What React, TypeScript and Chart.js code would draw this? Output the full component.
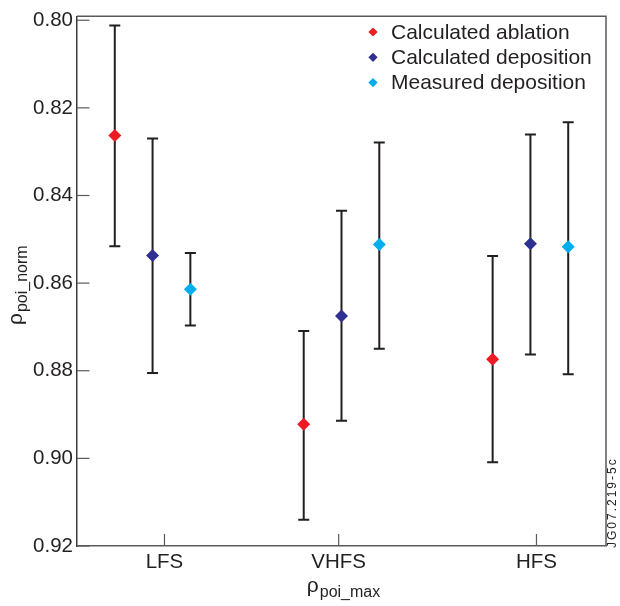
import React, { useEffect, useRef } from "react";
import { Chart, registerables } from "chart.js";

Chart.register(...registerables);

// Categories and where their labels sit on the horizontal axis
const CATEGORIES = ["LFS", "VHFS", "HFS"];
const CATEGORY_TICKS = [0.463, 1.385, 2.432];
const GROUP_CENTERS = [0.4, 1.4, 2.4];
const SERIES_OFFSETS = [-0.2, 0, 0.2];

// Vertical axis ticks (axis runs downward)
const Y_TICKS = [0.8, 0.82, 0.84, 0.86, 0.88, 0.9, 0.92];

const SERIES_NAMES = ["Calculated ablation", "Calculated deposition", "Measured deposition"];
const SERIES_COLORS = ["#ed1c24", "#2e3192", "#00aeef"];

// Values per category (LFS, VHFS, HFS) with error bar bounds
const ABLATION = [0.8263, 0.8922, 0.8774];
const ABLATION_LOW = [0.8012, 0.8709, 0.8538];
const ABLATION_HIGH = [0.8516, 0.914, 0.9009];

const CALC_DEPOSITION = [0.8537, 0.8675, 0.851];
const CALC_DEPOSITION_LOW = [0.827, 0.8435, 0.8261];
const CALC_DEPOSITION_HIGH = [0.8805, 0.8914, 0.8763];

const MEAS_DEPOSITION = [0.8614, 0.8512, 0.8517];
const MEAS_DEPOSITION_LOW = [0.8531, 0.8279, 0.8233];
const MEAS_DEPOSITION_HIGH = [0.8697, 0.875, 0.8808];

const FONT = "'Liberation Sans', Arial, Helvetica, sans-serif";
const TEXT = "#231f20";
const FRAME = "#5a5a5a";

const SERIES_VALUES = [ABLATION, CALC_DEPOSITION, MEAS_DEPOSITION];
const SERIES_LOW = [ABLATION_LOW, CALC_DEPOSITION_LOW, MEAS_DEPOSITION_LOW];
const SERIES_HIGH = [ABLATION_HIGH, CALC_DEPOSITION_HIGH, MEAS_DEPOSITION_HIGH];

const errorBars = {
  id: "errorBars",
  beforeDatasetsDraw(chart: any) {
    const { ctx } = chart;
    const y = chart.scales.y;
    ctx.save();
    ctx.strokeStyle = TEXT;
    ctx.lineWidth = 2;
    chart.data.datasets.forEach((ds: any, i: number) => {
      const meta = chart.getDatasetMeta(i);
      meta.data.forEach((pt: any, j: number) => {
        const x = pt.x;
        const top = y.getPixelForValue(ds.errLow[j]);
        const bot = y.getPixelForValue(ds.errHigh[j]);
        ctx.beginPath();
        ctx.moveTo(x, top);
        ctx.lineTo(x, bot);
        ctx.moveTo(x - 5.5, top);
        ctx.lineTo(x + 5.5, top);
        ctx.moveTo(x - 5.5, bot);
        ctx.lineTo(x + 5.5, bot);
        ctx.stroke();
      });
    });
    ctx.restore();
  },
};

function drawSubscripted(ctx: any, main: string, sub: string, x: number, y: number) {
  ctx.font = `21px ${FONT}`;
  const mw = ctx.measureText(main).width;
  ctx.font = `16px ${FONT}`;
  const sw = ctx.measureText(sub).width;
  const start = x - (mw + sw + 1) / 2;
  ctx.textAlign = "left";
  ctx.textBaseline = "alphabetic";
  ctx.font = `21px ${FONT}`;
  ctx.fillText(main, start, y);
  ctx.font = `16px ${FONT}`;
  ctx.fillText(sub, start + mw + 1, y + 5);
}

const decorations = {
  id: "decorations",
  afterDraw(chart: any) {
    const { ctx, chartArea: a } = chart;
    const xs = chart.scales.x;
    const ys = chart.scales.y;
    ctx.save();
    // frame top and right
    ctx.strokeStyle = FRAME;
    ctx.lineWidth = 1.5;
    ctx.beginPath();
    ctx.moveTo(a.left, a.top);
    ctx.lineTo(a.right, a.top);
    ctx.lineTo(a.right, a.bottom);
    ctx.stroke();
    // inward tick marks
    ctx.lineWidth = 1.2;
    Y_TICKS.forEach((v) => {
      const py = ys.getPixelForValue(v);
      ctx.beginPath();
      ctx.moveTo(a.left, py);
      ctx.lineTo(a.left + 12.5, py);
      ctx.stroke();
    });
    CATEGORY_TICKS.forEach((v) => {
      const px = xs.getPixelForValue(v);
      ctx.beginPath();
      ctx.moveTo(px, a.bottom);
      ctx.lineTo(px, a.bottom - 12);
      ctx.stroke();
    });

    // legend
    ctx.textAlign = "left";
    ctx.textBaseline = "middle";
    ctx.font = `21px ${FONT}`;
    SERIES_NAMES.forEach((name, i) => {
      const ly = 32 + i * 25.3;
      const lx = 373;
      const r = 4.6;
      ctx.fillStyle = SERIES_COLORS[i];
      ctx.beginPath();
      ctx.moveTo(lx - r, ly);
      ctx.lineTo(lx, ly - r);
      ctx.lineTo(lx + r, ly);
      ctx.lineTo(lx, ly + r);
      ctx.closePath();
      ctx.fill();
      ctx.fillStyle = TEXT;
      ctx.fillText(name, 391, ly + 1);
    });

    // axis titles
    ctx.fillStyle = TEXT;
    drawSubscripted(ctx, "ρ", "poi_max", (a.left + a.right) / 2 + 2, 592);
    ctx.save();
    ctx.translate(22, (a.top + a.bottom) / 2 + 4);
    ctx.rotate(-Math.PI / 2);
    drawSubscripted(ctx, "ρ", "poi_norm", 0, 0);
    ctx.restore();

    // figure reference tag
    ctx.save();
    ctx.translate(616, 548);
    ctx.rotate(-Math.PI / 2);
    ctx.font = `12px ${FONT}`;
    (ctx as any).letterSpacing = "2px";
    ctx.fillStyle = TEXT;
    ctx.textAlign = "left";
    ctx.textBaseline = "alphabetic";
    ctx.fillText("JG07.219-5c", 0, 0);
    ctx.restore();

    ctx.restore();
  },
};

export default function App() {
  const canvasRef = useRef<HTMLCanvasElement | null>(null);

  useEffect(() => {
    if (!canvasRef.current) return;
    const datasets = SERIES_NAMES.map((name, i) => ({
      label: name,
      data: SERIES_VALUES[i].map((v, j) => ({ x: GROUP_CENTERS[j] + SERIES_OFFSETS[i], y: v })),
      errLow: SERIES_LOW[i],
      errHigh: SERIES_HIGH[i],
      pointStyle: "rectRot",
      pointRadius: 6.5,
      pointBorderWidth: 0,
      backgroundColor: SERIES_COLORS[i],
      borderColor: SERIES_COLORS[i],
      showLine: false,
    }));

    const chart = new Chart(canvasRef.current, {
      type: "scatter",
      data: { datasets } as any,
      options: {
        responsive: false,
        animation: false,
        layout: { padding: { top: 12, right: 14, left: 0, bottom: 0 } },
        plugins: { legend: { display: false }, tooltip: { enabled: false } },
        scales: {
          x: {
            type: "linear",
            min: 0,
            max: 2.8,
            afterBuildTicks: (s: any) => {
              s.ticks = CATEGORY_TICKS.map((v) => ({ value: v }));
            },
            afterFit: (s: any) => {
              s.height = 60;
            },
            ticks: {
              callback: (_v: any, i: number) => CATEGORIES[i],
              font: { family: FONT, size: 20.5 },
              color: TEXT,
              padding: 4,
              maxRotation: 0,
              autoSkip: false,
            },
            grid: { display: false, drawTicks: false },
            border: { display: true, color: FRAME, width: 1.5 },
          },
          y: {
            type: "linear",
            reverse: true,
            min: 0.7991,
            max: 0.92,
            afterBuildTicks: (s: any) => {
              s.ticks = Y_TICKS.map((v) => ({ value: v }));
            },
            afterFit: (s: any) => {
              s.width = 77;
            },
            ticks: {
              callback: (v: any) => Number(v).toFixed(2),
              font: { family: FONT, size: 20.5 },
              color: TEXT,
              padding: 4,
              autoSkip: false,
            },
            grid: { display: false, drawTicks: false },
            border: { display: true, color: "#3a3a3a", width: 1.5 },
          },
        },
      },
      plugins: [errorBars, decorations],
    } as any);
    return () => chart.destroy();
  }, []);

  return (
    <div style={{ position: "fixed", left: 0, top: 0, width: 620, height: 606, background: "#fff" }}>
      <canvas ref={canvasRef} width={620} height={606} />
    </div>
  );
}
